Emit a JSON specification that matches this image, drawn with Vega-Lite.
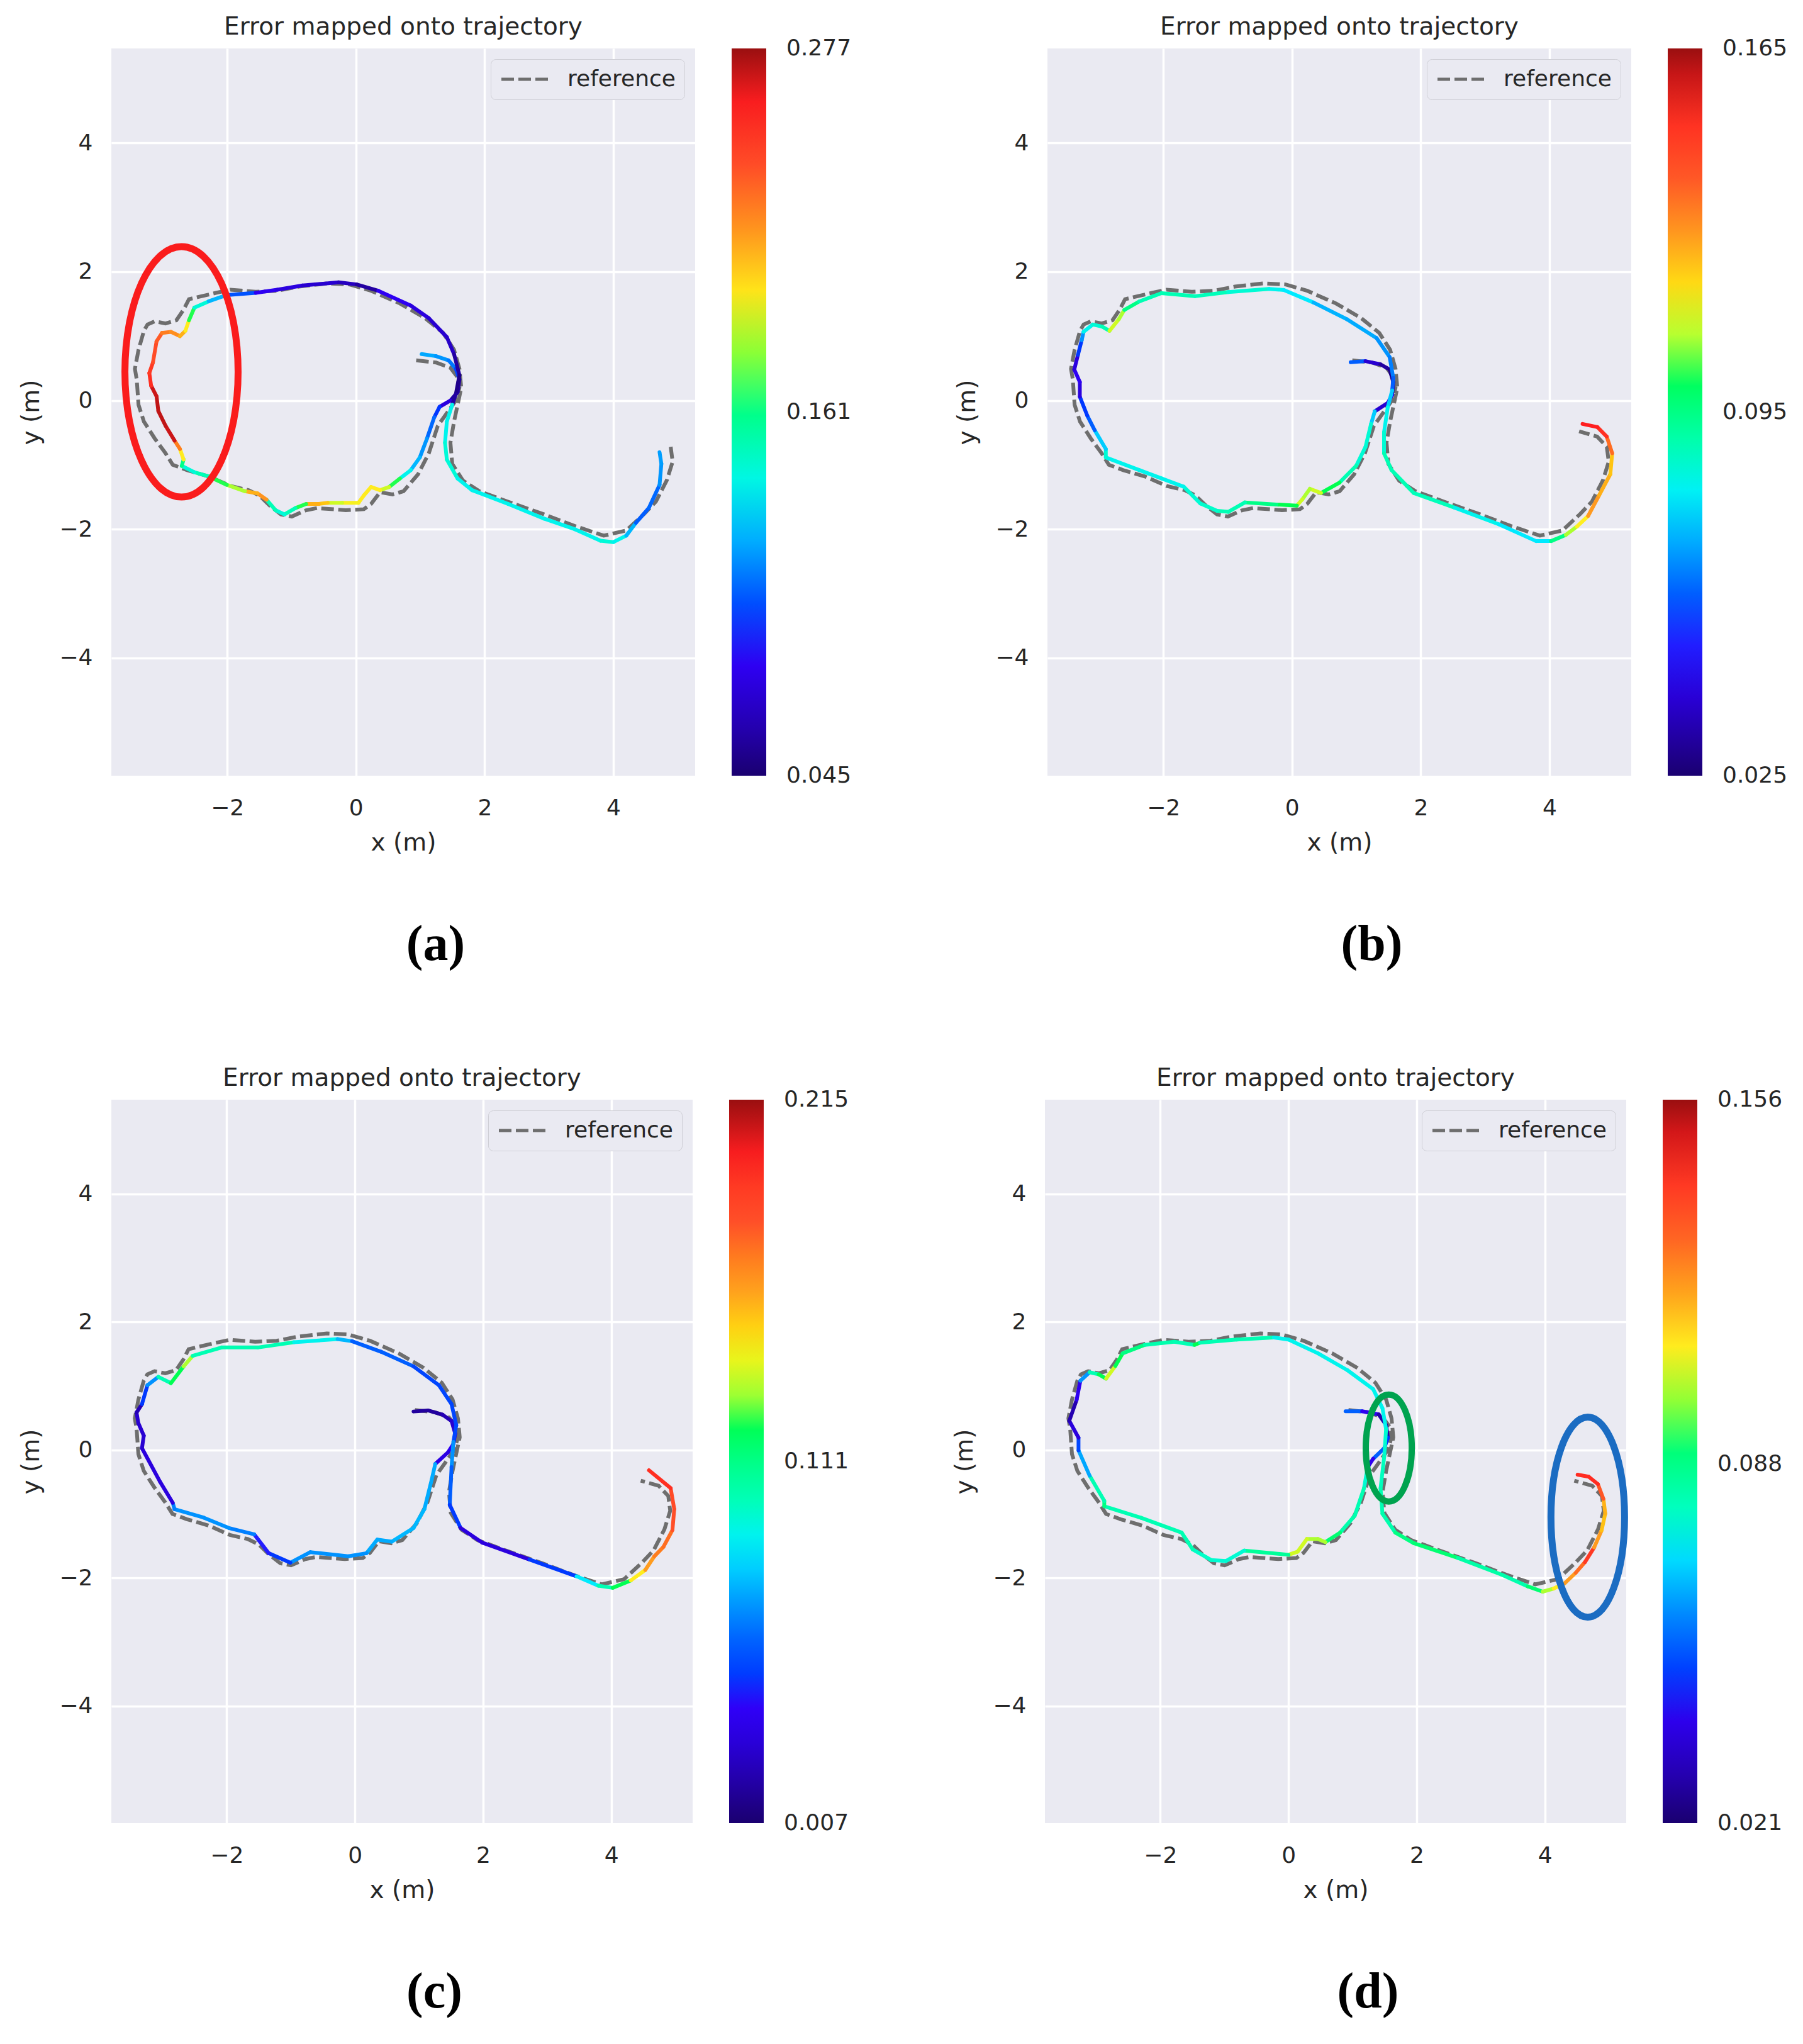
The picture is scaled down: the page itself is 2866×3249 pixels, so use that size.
{
"$schema": "https://vega.github.io/schema/vega-lite/v6.json",
"background": "white",
"padding": {"left": 30, "top": 24, "right": 0, "bottom": 0},
"datasets": {
"ref": [
{"x":0.936,"y":0.623},{"x":1.244,"y":0.59},{"x":1.468,"y":0.508},{"x":1.58,"y":0.361},{"x":1.608,"y":0.197},{"x":1.552,"y":0.0},{"x":1.412,"y":-0.197},{"x":1.272,"y":-0.393},{"x":1.132,"y":-0.82},{"x":0.964,"y":-1.148},{"x":0.739,"y":-1.41},{"x":0.571,"y":-1.459},{"x":0.375,"y":-1.426},{"x":0.235,"y":-1.607},{"x":0.123,"y":-1.689},{"x":-0.157,"y":-1.705},{"x":-0.605,"y":-1.672},{"x":-0.773,"y":-1.705},{"x":-0.997,"y":-1.803},{"x":-1.165,"y":-1.77},{"x":-1.333,"y":-1.639},{"x":-1.501,"y":-1.475},{"x":-1.669,"y":-1.393},{"x":-1.95,"y":-1.328},{"x":-2.286,"y":-1.18},{"x":-2.622,"y":-1.082},{"x":-2.846,"y":-1.0},{"x":-2.958,"y":-0.82},{"x":-3.126,"y":-0.59},{"x":-3.294,"y":-0.328},{"x":-3.378,"y":-0.066},{"x":-3.406,"y":0.328},{"x":-3.434,"y":0.492},{"x":-3.378,"y":0.787},{"x":-3.294,"y":1.082},{"x":-3.238,"y":1.18},{"x":-3.126,"y":1.23},{"x":-2.958,"y":1.197},{"x":-2.79,"y":1.246},{"x":-2.678,"y":1.41},{"x":-2.594,"y":1.574},{"x":-2.454,"y":1.607},{"x":-2.174,"y":1.672},{"x":-1.95,"y":1.721},{"x":-1.557,"y":1.689},{"x":-1.221,"y":1.705},{"x":-0.885,"y":1.77},{"x":-0.437,"y":1.82},{"x":-0.101,"y":1.803},{"x":0.235,"y":1.705},{"x":0.683,"y":1.508},{"x":1.076,"y":1.279},{"x":1.356,"y":1.049},{"x":1.524,"y":0.787},{"x":1.608,"y":0.492},{"x":1.636,"y":0.197},{"x":1.58,"y":-0.066},{"x":1.524,"y":-0.328},{"x":1.468,"y":-0.656},{"x":1.496,"y":-0.984},{"x":1.664,"y":-1.246},{"x":1.916,"y":-1.41},{"x":2.364,"y":-1.574},{"x":2.924,"y":-1.77},{"x":3.4,"y":-1.95},{"x":3.85,"y":-2.1},{"x":4.2,"y":-2.02},{"x":4.48,"y":-1.76},{"x":4.66,"y":-1.57},{"x":4.83,"y":-1.24},{"x":4.92,"y":-0.95},{"x":4.89,"y":-0.72},{"x":4.74,"y":-0.56},{"x":4.46,"y":-0.48}
],
"est_a": [
{"x":1.02,"y":0.721,"e":0.119},{"x":1.244,"y":0.689,"e":0.115},{"x":1.44,"y":0.623,"e":0.108},{"x":1.552,"y":0.492,"e":0.096},{"x":1.608,"y":0.328,"e":0.057},{"x":1.58,"y":0.131,"e":0.057},{"x":1.468,"y":0.0,"e":0.073},{"x":1.3,"y":-0.098,"e":0.091},{"x":1.216,"y":-0.262,"e":0.105},{"x":1.104,"y":-0.59,"e":0.115},{"x":0.992,"y":-0.885,"e":0.122},{"x":0.852,"y":-1.082,"e":0.138},{"x":0.683,"y":-1.213,"e":0.173},{"x":0.515,"y":-1.344,"e":0.189},{"x":0.375,"y":-1.393,"e":0.198},{"x":0.235,"y":-1.344,"e":0.198},{"x":0.123,"y":-1.475,"e":0.198},{"x":0.039,"y":-1.59,"e":0.196},{"x":-0.213,"y":-1.59,"e":0.189},{"x":-0.437,"y":-1.59,"e":0.207},{"x":-0.577,"y":-1.607,"e":0.212},{"x":-0.773,"y":-1.607,"e":0.173},{"x":-0.941,"y":-1.672,"e":0.149},{"x":-1.109,"y":-1.77,"e":0.142},{"x":-1.249,"y":-1.705,"e":0.149},{"x":-1.389,"y":-1.541,"e":0.219},{"x":-1.529,"y":-1.443,"e":0.212},{"x":-1.725,"y":-1.41,"e":0.184},{"x":-2.006,"y":-1.311,"e":0.173},{"x":-2.286,"y":-1.18,"e":0.149},{"x":-2.51,"y":-1.115,"e":0.142},{"x":-2.706,"y":-1.016,"e":0.161},{"x":-2.678,"y":-0.918,"e":0.198},{"x":-2.734,"y":-0.754,"e":0.226},{"x":-2.818,"y":-0.623,"e":0.268},{"x":-2.958,"y":-0.393,"e":0.27},{"x":-3.07,"y":-0.164,"e":0.27},{"x":-3.098,"y":0.066,"e":0.268},{"x":-3.182,"y":0.23,"e":0.254},{"x":-3.21,"y":0.426,"e":0.249},{"x":-3.154,"y":0.59,"e":0.24},{"x":-3.098,"y":0.918,"e":0.235},{"x":-3.014,"y":1.049,"e":0.226},{"x":-2.874,"y":1.066,"e":0.221},{"x":-2.734,"y":1.0,"e":0.212},{"x":-2.65,"y":1.082,"e":0.198},{"x":-2.594,"y":1.246,"e":0.173},{"x":-2.51,"y":1.443,"e":0.142},{"x":-2.286,"y":1.541,"e":0.122},{"x":-2.006,"y":1.639,"e":0.101},{"x":-1.557,"y":1.672,"e":0.08},{"x":-1.221,"y":1.721,"e":0.073},{"x":-0.829,"y":1.787,"e":0.068},{"x":-0.269,"y":1.836,"e":0.064},{"x":0.011,"y":1.803,"e":0.057},{"x":0.347,"y":1.705,"e":0.08},{"x":0.852,"y":1.475,"e":0.073},{"x":1.132,"y":1.279,"e":0.068},{"x":1.412,"y":0.984,"e":0.066},{"x":1.524,"y":0.721,"e":0.057},{"x":1.608,"y":0.393,"e":0.052},{"x":1.552,"y":0.098,"e":0.057},{"x":1.496,"y":-0.066,"e":0.138},{"x":1.412,"y":-0.328,"e":0.138},{"x":1.384,"y":-0.656,"e":0.142},{"x":1.412,"y":-0.918,"e":0.142},{"x":1.58,"y":-1.213,"e":0.138},{"x":1.804,"y":-1.393,"e":0.138},{"x":2.364,"y":-1.607,"e":0.138},{"x":2.924,"y":-1.836,"e":0.138},{"x":3.4,"y":-2.0,"e":0.138},{"x":3.8,"y":-2.18,"e":0.142},{"x":4.0,"y":-2.2,"e":0.138},{"x":4.2,"y":-2.1,"e":0.122},{"x":4.35,"y":-1.9,"e":0.103},{"x":4.55,"y":-1.67,"e":0.105},{"x":4.717,"y":-1.311,"e":0.115},{"x":4.745,"y":-0.984,"e":0.117},{"x":4.717,"y":-0.803,"e":0.119}
],
"est_b": [
{"x":0.911,"y":0.595,"e":0.06},{"x":1.141,"y":0.611,"e":0.039},{"x":1.372,"y":0.563,"e":0.032},{"x":1.516,"y":0.481,"e":0.029},{"x":1.573,"y":0.286,"e":0.032},{"x":1.556,"y":0.091,"e":0.046},{"x":1.487,"y":-0.039,"e":0.039},{"x":1.285,"y":-0.169,"e":0.074},{"x":1.228,"y":-0.364,"e":0.084},{"x":1.141,"y":-0.722,"e":0.084},{"x":0.997,"y":-1.015,"e":0.088},{"x":0.738,"y":-1.275,"e":0.102},{"x":0.45,"y":-1.437,"e":0.112},{"x":0.277,"y":-1.372,"e":0.109},{"x":0.161,"y":-1.535,"e":0.112},{"x":0.075,"y":-1.633,"e":0.102},{"x":-0.242,"y":-1.616,"e":0.095},{"x":-0.732,"y":-1.584,"e":0.088},{"x":-0.991,"y":-1.73,"e":0.088},{"x":-1.164,"y":-1.714,"e":0.085},{"x":-1.424,"y":-1.6,"e":0.084},{"x":-1.683,"y":-1.34,"e":0.081},{"x":-2.029,"y":-1.21,"e":0.081},{"x":-2.375,"y":-1.08,"e":0.081},{"x":-2.893,"y":-0.885,"e":0.084},{"x":-2.893,"y":-0.754,"e":0.074},{"x":-3.066,"y":-0.462,"e":0.06},{"x":-3.182,"y":-0.234,"e":0.053},{"x":-3.297,"y":0.059,"e":0.042},{"x":-3.297,"y":0.286,"e":0.046},{"x":-3.383,"y":0.481,"e":0.042},{"x":-3.326,"y":0.709,"e":0.053},{"x":-3.268,"y":0.937,"e":0.067},{"x":-3.239,"y":1.067,"e":0.081},{"x":-3.095,"y":1.18,"e":0.084},{"x":-2.951,"y":1.148,"e":0.088},{"x":-2.836,"y":1.083,"e":0.112},{"x":-2.692,"y":1.262,"e":0.109},{"x":-2.605,"y":1.408,"e":0.095},{"x":-2.375,"y":1.538,"e":0.088},{"x":-2.029,"y":1.668,"e":0.088},{"x":-1.51,"y":1.62,"e":0.087},{"x":-0.991,"y":1.685,"e":0.084},{"x":-0.357,"y":1.733,"e":0.081},{"x":-0.127,"y":1.717,"e":0.078},{"x":0.334,"y":1.522,"e":0.071},{"x":0.853,"y":1.262,"e":0.07},{"x":1.314,"y":0.969,"e":0.067},{"x":1.516,"y":0.676,"e":0.064},{"x":1.573,"y":0.351,"e":0.06},{"x":1.556,"y":0.156,"e":0.074},{"x":1.487,"y":-0.104,"e":0.081},{"x":1.429,"y":-0.494,"e":0.084},{"x":1.429,"y":-0.82,"e":0.088},{"x":1.545,"y":-1.08,"e":0.088},{"x":1.89,"y":-1.437,"e":0.087},{"x":2.524,"y":-1.665,"e":0.081},{"x":3.216,"y":-1.925,"e":0.078},{"x":3.793,"y":-2.185,"e":0.078},{"x":4.024,"y":-2.185,"e":0.095},{"x":4.254,"y":-2.088,"e":0.109},{"x":4.427,"y":-1.958,"e":0.117},{"x":4.599,"y":-1.795,"e":0.129},{"x":4.772,"y":-1.47,"e":0.126},{"x":4.945,"y":-1.145,"e":0.123},{"x":4.974,"y":-0.82,"e":0.137},{"x":4.888,"y":-0.559,"e":0.151},{"x":4.744,"y":-0.413,"e":0.154},{"x":4.513,"y":-0.364,"e":0.151}
],
"est_c": [
{"x":0.915,"y":0.6,"e":0.017},{"x":1.141,"y":0.616,"e":0.017},{"x":1.367,"y":0.551,"e":0.022},{"x":1.508,"y":0.452,"e":0.028},{"x":1.565,"y":0.256,"e":0.032},{"x":1.537,"y":0.092,"e":0.038},{"x":1.452,"y":-0.039,"e":0.034},{"x":1.254,"y":-0.22,"e":0.074},{"x":1.198,"y":-0.466,"e":0.074},{"x":1.085,"y":-0.925,"e":0.076},{"x":0.915,"y":-1.22,"e":0.076},{"x":0.576,"y":-1.433,"e":0.074},{"x":0.35,"y":-1.4,"e":0.074},{"x":0.181,"y":-1.613,"e":0.069},{"x":-0.102,"y":-1.662,"e":0.069},{"x":-0.695,"y":-1.597,"e":0.069},{"x":-1.006,"y":-1.761,"e":0.049},{"x":-1.345,"y":-1.613,"e":0.044},{"x":-1.571,"y":-1.318,"e":0.065},{"x":-1.966,"y":-1.22,"e":0.069},{"x":-2.362,"y":-1.056,"e":0.069},{"x":-2.814,"y":-0.925,"e":0.065},{"x":-2.842,"y":-0.826,"e":0.032},{"x":-3.04,"y":-0.498,"e":0.032},{"x":-3.322,"y":0.026,"e":0.028},{"x":-3.294,"y":0.223,"e":0.028},{"x":-3.379,"y":0.42,"e":0.028},{"x":-3.407,"y":0.584,"e":0.022},{"x":-3.322,"y":0.715,"e":0.049},{"x":-3.237,"y":1.01,"e":0.069},{"x":-3.068,"y":1.141,"e":0.101},{"x":-2.87,"y":1.043,"e":0.121},{"x":-2.672,"y":1.305,"e":0.132},{"x":-2.531,"y":1.469,"e":0.101},{"x":-2.079,"y":1.6,"e":0.101},{"x":-1.514,"y":1.6,"e":0.101},{"x":-0.949,"y":1.682,"e":0.09},{"x":-0.271,"y":1.731,"e":0.076},{"x":-0.045,"y":1.698,"e":0.059},{"x":0.407,"y":1.534,"e":0.059},{"x":0.915,"y":1.305,"e":0.053},{"x":1.311,"y":1.01,"e":0.053},{"x":1.508,"y":0.715,"e":0.053},{"x":1.582,"y":0.387,"e":0.053},{"x":1.537,"y":0.125,"e":0.069},{"x":1.508,"y":-0.269,"e":0.059},{"x":1.48,"y":-0.859,"e":0.049},{"x":1.65,"y":-1.22,"e":0.032},{"x":1.989,"y":-1.449,"e":0.032},{"x":2.723,"y":-1.711,"e":0.049},{"x":3.458,"y":-1.974,"e":0.086},{"x":3.797,"y":-2.121,"e":0.101},{"x":4.023,"y":-2.154,"e":0.121},{"x":4.305,"y":-2.039,"e":0.144},{"x":4.531,"y":-1.875,"e":0.161},{"x":4.672,"y":-1.662,"e":0.169},{"x":4.814,"y":-1.515,"e":0.173},{"x":4.955,"y":-1.252,"e":0.18},{"x":4.983,"y":-0.925,"e":0.182},{"x":4.927,"y":-0.597,"e":0.194},{"x":4.588,"y":-0.318,"e":0.209}
],
"est_d": [
{"x":0.891,"y":0.603,"e":0.055},{"x":1.149,"y":0.603,"e":0.041},{"x":1.408,"y":0.554,"e":0.029},{"x":1.523,"y":0.389,"e":0.029},{"x":1.552,"y":0.191,"e":0.048},{"x":1.494,"y":0.026,"e":0.055},{"x":1.322,"y":-0.138,"e":0.041},{"x":1.236,"y":-0.27,"e":0.078},{"x":1.178,"y":-0.6,"e":0.082},{"x":1.034,"y":-1.028,"e":0.083},{"x":0.805,"y":-1.292,"e":0.091},{"x":0.575,"y":-1.44,"e":0.102},{"x":0.46,"y":-1.39,"e":0.102},{"x":0.287,"y":-1.39,"e":0.105},{"x":0.144,"y":-1.588,"e":0.105},{"x":0.0,"y":-1.638,"e":0.086},{"x":-0.69,"y":-1.572,"e":0.078},{"x":-0.977,"y":-1.736,"e":0.078},{"x":-1.207,"y":-1.72,"e":0.079},{"x":-1.494,"y":-1.555,"e":0.082},{"x":-1.667,"y":-1.292,"e":0.082},{"x":-2.299,"y":-1.061,"e":0.082},{"x":-2.874,"y":-0.88,"e":0.089},{"x":-2.874,"y":-0.797,"e":0.082},{"x":-3.103,"y":-0.402,"e":0.064},{"x":-3.276,"y":-0.007,"e":0.051},{"x":-3.276,"y":0.191,"e":0.037},{"x":-3.42,"y":0.455,"e":0.03},{"x":-3.305,"y":0.784,"e":0.041},{"x":-3.247,"y":1.081,"e":0.062},{"x":-3.103,"y":1.213,"e":0.082},{"x":-2.96,"y":1.18,"e":0.095},{"x":-2.845,"y":1.114,"e":0.105},{"x":-2.701,"y":1.311,"e":0.095},{"x":-2.586,"y":1.509,"e":0.089},{"x":-2.241,"y":1.641,"e":0.083},{"x":-1.782,"y":1.69,"e":0.082},{"x":-1.466,"y":1.641,"e":0.095},{"x":-1.379,"y":1.674,"e":0.082},{"x":-0.805,"y":1.723,"e":0.082},{"x":-0.23,"y":1.756,"e":0.075},{"x":0.0,"y":1.723,"e":0.075},{"x":0.46,"y":1.509,"e":0.075},{"x":0.92,"y":1.245,"e":0.075},{"x":1.322,"y":0.949,"e":0.075},{"x":1.466,"y":0.652,"e":0.075},{"x":1.523,"y":0.323,"e":0.078},{"x":1.494,"y":-0.105,"e":0.08},{"x":1.437,"y":-0.6,"e":0.082},{"x":1.466,"y":-0.995,"e":0.083},{"x":1.667,"y":-1.292,"e":0.089},{"x":1.954,"y":-1.456,"e":0.091},{"x":2.644,"y":-1.687,"e":0.084},{"x":3.333,"y":-1.951,"e":0.083},{"x":3.736,"y":-2.132,"e":0.091},{"x":3.966,"y":-2.214,"e":0.102},{"x":4.138,"y":-2.165,"e":0.11},{"x":4.31,"y":-2.082,"e":0.121},{"x":4.483,"y":-1.918,"e":0.129},{"x":4.626,"y":-1.753,"e":0.14},{"x":4.77,"y":-1.522,"e":0.121},{"x":4.885,"y":-1.259,"e":0.116},{"x":4.943,"y":-0.995,"e":0.118},{"x":4.914,"y":-0.764,"e":0.132},{"x":4.828,"y":-0.534,"e":0.143},{"x":4.684,"y":-0.418,"e":0.143},{"x":4.511,"y":-0.386,"e":0.143}
],
"ell_a": [{"x":-2.71,"y":0.445}],
"ell_d_green": [{"x":1.565,"y":0.03}],
"ell_d_blue": [{"x":4.67,"y":-1.05}]
},
"spacing": 153,
"resolve": {"scale": {"color": "independent", "strokeDash": "independent"}, "legend": {"color": "independent", "strokeDash": "independent"}},
"vconcat": [
{
"spacing": 164,
"resolve": {"scale": {"color": "independent", "strokeDash": "independent"}, "legend": {"color": "independent", "strokeDash": "independent"}},
"hconcat": [
{
"title": {"text": "(a)", "orient": "bottom", "anchor": "middle", "frame": "bounds", "font": "Liberation Serif", "fontWeight": "bold", "fontSize": 80, "color": "#000000", "offset": 104},
"resolve": {"scale": {"color": "independent", "strokeDash": "independent"}, "legend": {"color": "independent", "strokeDash": "independent"}},
"vconcat": [{
"width": 928, "height": 1156,
"title": {"text": "Error mapped onto trajectory"},
"encoding": {
"x": {"field": "x", "type": "quantitative", "scale": {"domain": [-3.8, 5.27], "nice": false, "zero": false}, "axis": {"values": [-2, 0, 2, 4], "title": "x (m)"}},
"y": {"field": "y", "type": "quantitative", "scale": {"domain": [-5.83, 5.47], "nice": false, "zero": false}, "axis": {"values": [-4, -2, 0, 2, 4], "title": "y (m)"}}
},
"layer": [
{"data": {"name": "ref"}, "transform": [{"window": [{"op": "row_number", "as": "i"}]}, {"filter": "datum.i <= 72"}],
 "mark": {"type": "line", "color": "#6e6e6e", "strokeWidth": 6},
 "encoding": {"order": {"field": "i", "type": "quantitative"},
  "strokeDash": {"datum": "reference", "type": "nominal", "scale": {"range": [[20, 7]]},
   "legend": {"orient": "top-right", "title": null, "symbolType": "M -1 0 L 4 0", "symbolSize": 900, "symbolStrokeColor": "#6e6e6e", "symbolStrokeWidth": 5, "symbolDash": [18, 8], "labelFontSize": 36, "labelOffset": 72, "labelLimit": 600, "fillColor": "#eaeaf2", "strokeColor": "#cfcfd6", "cornerRadius": 8, "padding": 14, "offset": 17}}}},
{"data": {"name": "est_a"}, "transform": [{"window": [{"op": "lead", "field": "x", "as": "x2"}, {"op": "lead", "field": "y", "as": "y2"}]}, {"filter": "datum.x2 != null"}],
 "mark": {"type": "rule", "strokeWidth": 6, "strokeCap": "round"},
 "encoding": {"x2": {"field": "x2"}, "y2": {"field": "y2"},
  "color": {"field": "e", "type": "quantitative",
   "scale": {"type": "linear", "zero": false, "nice": false, "domain": [0.045,0.0677,0.0844,0.0891,0.1007,0.1176,0.1327,0.1459,0.1656,0.1726,0.1758,0.1858,0.1974,0.2174,0.2373,0.2589,0.277], "range": ["#1a0070","#2800d0","#3000ff","#0030ff","#0050ff","#00a0ff","#00eaff","#00ffc0","#00ff70","#00ff50","#60ff40","#b8ff30","#ffee20","#ff9a20","#ff5028","#ff1e20","#9a0f10"]},
   "legend": {"values": [0.045, 0.161, 0.277], "format": ".3f", "title": null, "orient": "right", "offset": 58, "gradientLength": 1156, "gradientThickness": 55, "gradientStrokeWidth": 0, "labelFontSize": 36, "labelOffset": 32, "labelOverlap": false, "encode": {"labels": {"update": {"baseline": {"value": "middle"}}}}}}}},
{"data": {"name": "ell_a"}, "mark": {"type": "point", "shape": "M -0.452 0 A 0.452 1 0 1 1 0.452 0 A 0.452 1 0 1 1 -0.452 0 Z", "size": 158404, "filled": false, "color": "#fa1c1c", "strokeWidth": 11, "opacity": 1}, "encoding": {}}
]
}]
},
{
"title": {"text": "(b)", "orient": "bottom", "anchor": "middle", "frame": "bounds", "font": "Liberation Serif", "fontWeight": "bold", "fontSize": 80, "color": "#000000", "offset": 104},
"resolve": {"scale": {"color": "independent", "strokeDash": "independent"}, "legend": {"color": "independent", "strokeDash": "independent"}},
"vconcat": [{
"width": 928, "height": 1156,
"title": {"text": "Error mapped onto trajectory"},
"encoding": {
"x": {"field": "x", "type": "quantitative", "scale": {"domain": [-3.8, 5.27], "nice": false, "zero": false}, "axis": {"values": [-2, 0, 2, 4], "title": "x (m)"}},
"y": {"field": "y", "type": "quantitative", "scale": {"domain": [-5.83, 5.47], "nice": false, "zero": false}, "axis": {"values": [-4, -2, 0, 2, 4], "title": "y (m)"}}
},
"layer": [
{"data": {"name": "ref"}, "transform": [{"window": [{"op": "row_number", "as": "i"}]}],
 "mark": {"type": "line", "color": "#6e6e6e", "strokeWidth": 6},
 "encoding": {"order": {"field": "i", "type": "quantitative"},
  "strokeDash": {"datum": "reference", "type": "nominal", "scale": {"range": [[20, 7]]},
   "legend": {"orient": "top-right", "title": null, "symbolType": "M -1 0 L 4 0", "symbolSize": 900, "symbolStrokeColor": "#6e6e6e", "symbolStrokeWidth": 5, "symbolDash": [18, 8], "labelFontSize": 36, "labelOffset": 72, "labelLimit": 600, "fillColor": "#eaeaf2", "strokeColor": "#cfcfd6", "cornerRadius": 8, "padding": 14, "offset": 17}}}},
{"data": {"name": "est_b"}, "transform": [{"window": [{"op": "lead", "field": "x", "as": "x2"}, {"op": "lead", "field": "y", "as": "y2"}]}, {"filter": "datum.x2 != null"}],
 "mark": {"type": "rule", "strokeWidth": 6, "strokeCap": "round"},
 "encoding": {"x2": {"field": "x2"}, "y2": {"field": "y2"},
  "color": {"field": "e", "type": "quantitative",
   "scale": {"type": "linear", "zero": false, "nice": false, "domain": [0.025,0.0387,0.0488,0.0516,0.0586,0.0688,0.0779,0.0859,0.0978,0.102,0.104,0.11,0.117,0.129,0.1411,0.1541,0.165], "range": ["#1a0070","#2800d0","#3000ff","#0030ff","#0050ff","#00a0ff","#00eaff","#00ffc0","#00ff70","#00ff50","#60ff40","#b8ff30","#ffee20","#ff9a20","#ff5028","#ff1e20","#9a0f10"]},
   "legend": {"values": [0.025, 0.095, 0.165], "format": ".3f", "title": null, "orient": "right", "offset": 58, "gradientLength": 1156, "gradientThickness": 55, "gradientStrokeWidth": 0, "labelFontSize": 36, "labelOffset": 32, "labelOverlap": false, "encode": {"labels": {"update": {"baseline": {"value": "middle"}}}}}}}}
]
}]
}
]
},
{
"spacing": 164,
"resolve": {"scale": {"color": "independent", "strokeDash": "independent"}, "legend": {"color": "independent", "strokeDash": "independent"}},
"hconcat": [
{
"title": {"text": "(c)", "orient": "bottom", "anchor": "middle", "frame": "bounds", "font": "Liberation Serif", "fontWeight": "bold", "fontSize": 80, "color": "#000000", "offset": 104},
"resolve": {"scale": {"color": "independent", "strokeDash": "independent"}, "legend": {"color": "independent", "strokeDash": "independent"}},
"vconcat": [{
"width": 924, "height": 1150,
"title": {"text": "Error mapped onto trajectory"},
"encoding": {
"x": {"field": "x", "type": "quantitative", "scale": {"domain": [-3.8, 5.27], "nice": false, "zero": false}, "axis": {"values": [-2, 0, 2, 4], "title": "x (m)"}},
"y": {"field": "y", "type": "quantitative", "scale": {"domain": [-5.83, 5.47], "nice": false, "zero": false}, "axis": {"values": [-4, -2, 0, 2, 4], "title": "y (m)"}}
},
"layer": [
{"data": {"name": "ref"}, "transform": [{"window": [{"op": "row_number", "as": "i"}]}],
 "mark": {"type": "line", "color": "#6e6e6e", "strokeWidth": 6},
 "encoding": {"order": {"field": "i", "type": "quantitative"},
  "strokeDash": {"datum": "reference", "type": "nominal", "scale": {"range": [[20, 7]]},
   "legend": {"orient": "top-right", "title": null, "symbolType": "M -1 0 L 4 0", "symbolSize": 900, "symbolStrokeColor": "#6e6e6e", "symbolStrokeWidth": 5, "symbolDash": [18, 8], "labelFontSize": 36, "labelOffset": 72, "labelLimit": 600, "fillColor": "#eaeaf2", "strokeColor": "#cfcfd6", "cornerRadius": 8, "padding": 14, "offset": 17}}}},
{"data": {"name": "est_c"}, "transform": [{"window": [{"op": "lead", "field": "x", "as": "x2"}, {"op": "lead", "field": "y", "as": "y2"}]}, {"filter": "datum.x2 != null"}],
 "mark": {"type": "rule", "strokeWidth": 6, "strokeCap": "round"},
 "encoding": {"x2": {"field": "x2"}, "y2": {"field": "y2"},
  "color": {"field": "e", "type": "quantitative",
   "scale": {"type": "linear", "zero": false, "nice": false, "domain": [0.007,0.0274,0.0424,0.0465,0.0569,0.0721,0.0856,0.0975,0.1152,0.1214,0.1243,0.1333,0.1437,0.1615,0.1794,0.1988,0.215], "range": ["#1a0070","#2800d0","#3000ff","#0030ff","#0050ff","#00a0ff","#00eaff","#00ffc0","#00ff70","#00ff50","#60ff40","#b8ff30","#ffee20","#ff9a20","#ff5028","#ff1e20","#9a0f10"]},
   "legend": {"values": [0.007, 0.111, 0.215], "format": ".3f", "title": null, "orient": "right", "offset": 58, "gradientLength": 1150, "gradientThickness": 55, "gradientStrokeWidth": 0, "labelFontSize": 36, "labelOffset": 32, "labelOverlap": false, "encode": {"labels": {"update": {"baseline": {"value": "middle"}}}}}}}}
]
}]
},
{
"title": {"text": "(d)", "orient": "bottom", "anchor": "middle", "frame": "bounds", "font": "Liberation Serif", "fontWeight": "bold", "fontSize": 80, "color": "#000000", "offset": 104},
"resolve": {"scale": {"color": "independent", "strokeDash": "independent"}, "legend": {"color": "independent", "strokeDash": "independent"}},
"vconcat": [{
"width": 924, "height": 1150,
"title": {"text": "Error mapped onto trajectory"},
"encoding": {
"x": {"field": "x", "type": "quantitative", "scale": {"domain": [-3.8, 5.27], "nice": false, "zero": false}, "axis": {"values": [-2, 0, 2, 4], "title": "x (m)"}},
"y": {"field": "y", "type": "quantitative", "scale": {"domain": [-5.83, 5.47], "nice": false, "zero": false}, "axis": {"values": [-4, -2, 0, 2, 4], "title": "y (m)"}}
},
"layer": [
{"data": {"name": "ref"}, "transform": [{"window": [{"op": "row_number", "as": "i"}]}],
 "mark": {"type": "line", "color": "#6e6e6e", "strokeWidth": 6},
 "encoding": {"order": {"field": "i", "type": "quantitative"},
  "strokeDash": {"datum": "reference", "type": "nominal", "scale": {"range": [[20, 7]]},
   "legend": {"orient": "top-right", "title": null, "symbolType": "M -1 0 L 4 0", "symbolSize": 900, "symbolStrokeColor": "#6e6e6e", "symbolStrokeWidth": 5, "symbolDash": [18, 8], "labelFontSize": 36, "labelOffset": 72, "labelLimit": 600, "fillColor": "#eaeaf2", "strokeColor": "#cfcfd6", "cornerRadius": 8, "padding": 14, "offset": 17}}}},
{"data": {"name": "est_d"}, "transform": [{"window": [{"op": "lead", "field": "x", "as": "x2"}, {"op": "lead", "field": "y", "as": "y2"}]}, {"filter": "datum.x2 != null"}],
 "mark": {"type": "rule", "strokeWidth": 6, "strokeCap": "round"},
 "encoding": {"x2": {"field": "x2"}, "y2": {"field": "y2"},
  "color": {"field": "e", "type": "quantitative",
   "scale": {"type": "linear", "zero": false, "nice": false, "domain": [0.021,0.0342,0.044,0.0467,0.0534,0.0633,0.072,0.0797,0.0912,0.0953,0.0971,0.1029,0.1097,0.1213,0.1329,0.1455,0.156], "range": ["#1a0070","#2800d0","#3000ff","#0030ff","#0050ff","#00a0ff","#00eaff","#00ffc0","#00ff70","#00ff50","#60ff40","#b8ff30","#ffee20","#ff9a20","#ff5028","#ff1e20","#9a0f10"]},
   "legend": {"values": [0.021, 0.088, 0.156], "format": ".3f", "title": null, "orient": "right", "offset": 58, "gradientLength": 1150, "gradientThickness": 55, "gradientStrokeWidth": 0, "labelFontSize": 36, "labelOffset": 32, "labelOverlap": false, "encode": {"labels": {"update": {"baseline": {"value": "middle"}}}}}}}},
{"data": {"name": "ell_d_green"}, "mark": {"type": "point", "shape": "M -0.43 0 A 0.43 1 0 1 1 0.43 0 A 0.43 1 0 1 1 -0.43 0 Z", "size": 28900, "filled": false, "color": "#00a34f", "strokeWidth": 10, "opacity": 1}, "encoding": {}},
{"data": {"name": "ell_d_blue"}, "mark": {"type": "point", "shape": "M -0.368 0 A 0.368 1 0 1 1 0.368 0 A 0.368 1 0 1 1 -0.368 0 Z", "size": 101124, "filled": false, "color": "#1b6cc2", "strokeWidth": 11, "opacity": 1}, "encoding": {}}
]
}]
}
]
}
],
"config": {
"font": "DejaVu Sans",
"view": {"fill": "#eaeaf2", "stroke": null},
"axis": {"domain": false, "ticks": false, "grid": true, "gridColor": "#ffffff", "gridWidth": 3.5, "labelFont": "DejaVu Sans", "labelFontSize": 36, "labelColor": "#262626", "titleFont": "DejaVu Sans", "titleFontSize": 39, "titleFontWeight": "normal", "titleColor": "#262626"},
"axisX": {"labelPadding": 34, "titlePadding": 18},
"axisY": {"labelPadding": 30, "titlePadding": 24},
"legend": {"labelFont": "DejaVu Sans", "labelColor": "#262626"},
"title": {"font": "DejaVu Sans", "fontSize": 39, "fontWeight": "normal", "color": "#262626", "offset": 14}
}
}
